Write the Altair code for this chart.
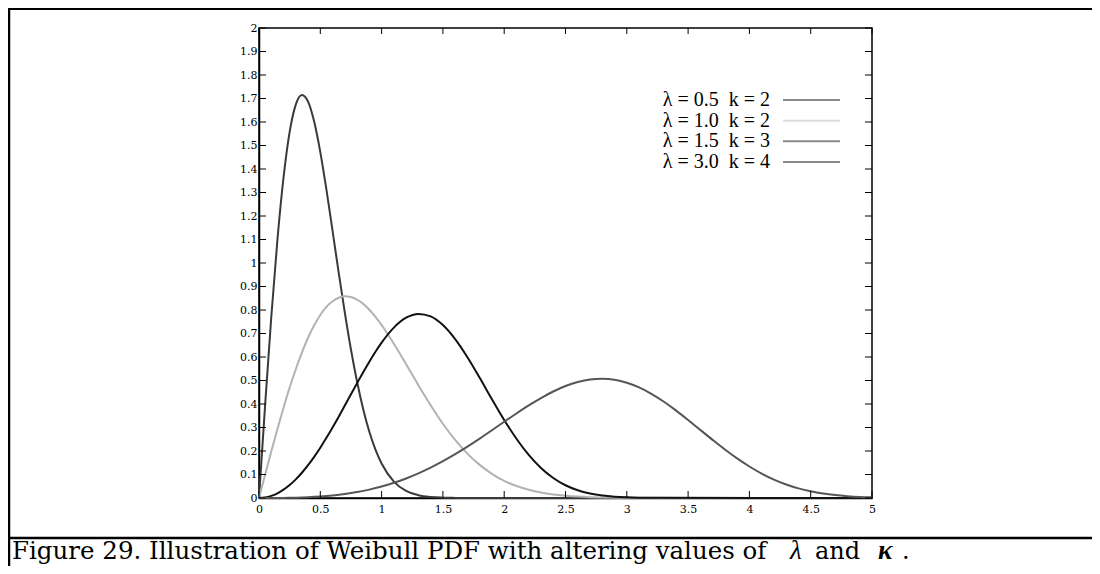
import altair as alt
import pandas as pd

# ---- data ----
series_names = ["λ = 0.5\u00a0\u00a0k = 2", "λ = 1.0\u00a0\u00a0k = 2",
                "λ = 1.5\u00a0\u00a0k = 3", "λ = 3.0\u00a0\u00a0k = 4"]
curve_colors = ["#3a3a3a", "#b2b2b2", "#111111", "#565656"]
legend_colors = ["#8a8a8a", "#dcdcdc", "#8a8a8a", "#8a8a8a"]

x_a = [0, 0.05, 0.1, 0.15, 0.2, 0.25, 0.3, 0.35, 0.4, 0.45, 0.5, 0.55, 0.6, 0.65, 0.7,
       0.75, 0.8, 0.85, 0.9, 0.95, 1.0, 1.1, 1.2, 1.3, 1.4, 1.5, 1.6, 1.7, 2.0, 5.0]
y_a = [0, 0.396, 0.769, 1.097, 1.363, 1.558, 1.674, 1.715, 1.687, 1.602, 1.472, 1.312, 1.137,
       0.959, 0.789, 0.632, 0.495, 0.378, 0.282, 0.206, 0.147, 0.070, 0.030, 0.012, 0.0044,
       0.0015, 0.0005, 0.0001, 0, 0]

x_b = [0, 0.05, 0.1, 0.15, 0.2, 0.25, 0.3, 0.35, 0.4, 0.45, 0.5, 0.55, 0.6, 0.65, 0.7,
       0.75, 0.8, 0.85, 0.9, 0.95, 1.0, 1.1, 1.2, 1.3, 1.4, 1.5, 1.6, 1.7, 1.8, 1.9, 2.0,
       2.1, 2.2, 2.3, 2.4, 2.5, 2.6, 2.7, 2.8, 2.9, 3.0, 5.0]
y_b = [0, 0.0998, 0.198, 0.293, 0.384, 0.470, 0.548, 0.619, 0.682, 0.735, 0.779, 0.813,
       0.837, 0.852, 0.858, 0.855, 0.844, 0.826, 0.801, 0.771, 0.736, 0.656, 0.569, 0.480,
       0.395, 0.316, 0.247, 0.189, 0.141, 0.103, 0.073, 0.051, 0.035, 0.023, 0.015, 0.0097,
       0.0060, 0.0037, 0.0022, 0.0013, 0.0007, 0]

x_c = [0, 0.05, 0.1, 0.15, 0.2, 0.25, 0.3, 0.35, 0.4, 0.45, 0.5, 0.55, 0.6, 0.65, 0.7,
       0.75, 0.8, 0.85, 0.9, 0.95, 1.0, 1.1, 1.2, 1.3, 1.4, 1.5, 1.6, 1.7, 1.8, 1.9, 2.0,
       2.1, 2.2, 2.3, 2.4, 2.5, 2.6, 2.7, 2.8, 2.9, 3.0, 3.1, 3.2, 5.0]
y_c = [0, 0.0022, 0.0089, 0.020, 0.0355, 0.0553, 0.0794, 0.1075, 0.1396, 0.1752, 0.2141,
       0.2560, 0.3002, 0.3462, 0.3935, 0.4412, 0.4888, 0.5353, 0.5801, 0.6223, 0.6610,
       0.7250, 0.7671, 0.7834, 0.7727, 0.7358, 0.6761, 0.5991, 0.5115, 0.4204, 0.3321,
       0.2521, 0.1833, 0.1279, 0.0852, 0.0542, 0.0329, 0.0190, 0.0104, 0.0054, 0.0027,
       0.0013, 0.0006, 0]

x_d = [0, 0.1, 0.2, 0.3, 0.4, 0.5, 0.6, 0.7, 0.8, 0.9, 1.0, 1.1, 1.2, 1.3, 1.4, 1.5, 1.6,
       1.7, 1.8, 1.9, 2.0, 2.1, 2.2, 2.3, 2.4, 2.5, 2.6, 2.7, 2.8, 2.9, 3.0, 3.1, 3.2, 3.3,
       3.4, 3.5, 3.6, 3.7, 3.8, 3.9, 4.0, 4.1, 4.2, 4.3, 4.4, 4.5, 4.6, 4.7, 4.8, 4.9, 5.0]
y_d = [0, 0.00005, 0.0004, 0.0013, 0.0032, 0.0062, 0.0107, 0.0169, 0.0252, 0.0357, 0.0488,
       0.0646, 0.0832, 0.1048, 0.1292, 0.1566, 0.1866, 0.2189, 0.2530, 0.2884, 0.3243,
       0.3597, 0.3939, 0.4253, 0.4532, 0.4764, 0.4937, 0.5044, 0.5075, 0.5030, 0.4905,
       0.4705, 0.4434, 0.4105, 0.3729, 0.3320, 0.2896, 0.2474, 0.2065, 0.1684, 0.1341,
       0.1039, 0.0785, 0.0577, 0.0411, 0.0285, 0.0191, 0.0124, 0.0078, 0.0047, 0.0028]

y_ticks = [0, 0.1, 0.2, 0.3, 0.4, 0.5, 0.6, 0.7, 0.8, 0.9, 1, 1.1, 1.2, 1.3, 1.4, 1.5,
           1.6, 1.7, 1.8, 1.9, 2]
x_ticks = [0, 0.5, 1, 1.5, 2, 2.5, 3, 3.5, 4, 4.5, 5]

caption_main = "Figure 29. Illustration of Weibull PDF with altering values of"
caption_lambda = "λ"
caption_and = "and"
caption_kappa = "κ"
caption_end = "."

# ---- tables ----
rows = []
for name, xs, ys in zip(series_names, [x_a, x_b, x_c, x_d], [y_a, y_b, y_c, y_d]):
    for xv, yv in zip(xs, ys):
        rows.append({"x": xv, "y": yv, "series": name})
curves_df = pd.DataFrame(rows)
legend_df = pd.DataFrame({"label": series_names, "row": list(range(len(series_names))),
                          "col": legend_colors})
yt_df = pd.DataFrame({"v": y_ticks})
xt_df = pd.DataFrame({"v": x_ticks})

W, H = 613, 470
SERIF = "Liberation Serif"
CAPFONT = "DejaVu Serif"
AXFONT = "DejaVu Serif"

xscale = alt.Scale(domain=[0, 5], nice=False)
yscale = alt.Scale(domain=[0, 2], nice=False)

x_axis = alt.Axis(values=x_ticks, format="~g", labelPadding=5, title=None,
                  labelOverlap=False, labelFlush=False, ticks=False)
y_axis = alt.Axis(values=y_ticks, format="~g", labelPadding=2, title=None,
                  labelOverlap=False, labelFlush=False, ticks=False, tickCount=21)

curves = alt.Chart(curves_df).mark_line(strokeWidth=2, interpolate="monotone").encode(
    x=alt.X("x:Q", scale=xscale, axis=x_axis),
    y=alt.Y("y:Q", scale=yscale, axis=y_axis),
    color=alt.Color("series:N", scale=alt.Scale(domain=series_names, range=curve_colors),
                    legend=None),
    order=alt.Order("x:Q"),
)

tick_left = alt.Chart(yt_df).mark_rule(color="black", strokeWidth=1).encode(
    y=alt.Y("v:Q", axis=y_axis), x=alt.value(0), x2=alt.value(7))
tick_right = alt.Chart(yt_df).mark_rule(color="black", strokeWidth=1).encode(
    y=alt.Y("v:Q", axis=y_axis), x=alt.value(W - 7), x2=alt.value(W))
tick_bottom = alt.Chart(xt_df).mark_rule(color="black", strokeWidth=1).encode(
    x=alt.X("v:Q", axis=x_axis), y=alt.value(H), y2=alt.value(H - 7))
tick_top = alt.Chart(xt_df).mark_rule(color="black", strokeWidth=1).encode(
    x=alt.X("v:Q", axis=x_axis), y=alt.value(0), y2=alt.value(6))

one = pd.DataFrame({"t": [0]})
frame_top = alt.Chart(one).mark_rule(color="black", strokeWidth=3).encode(
    x=alt.value(-251), x2=alt.value(833), y=alt.value(-19.5))
frame_left = alt.Chart(one).mark_rule(color="black", strokeWidth=2.5).encode(
    x=alt.value(-250), y=alt.value(-20), y2=alt.value(540))
frame_sep = alt.Chart(one).mark_rule(color="black", strokeWidth=2.5).encode(
    x=alt.value(-251), x2=alt.value(833), y=alt.value(510))


def cap(text, xpos, font, size, style="normal", weight="normal"):
    return alt.Chart(pd.DataFrame({"t": [text]})).mark_text(
        font=font, fontSize=size, fontStyle=style, fontWeight=weight, align="left",
        baseline="alphabetic", color="black").encode(
        text="t:N", x=alt.value(xpos), y=alt.value(531))


captions = [
    cap(caption_main, -247, CAPFONT, 24.5),
    cap(caption_lambda, 531, SERIF, 27, style="italic"),
    cap(caption_and, 556, CAPFONT, 24),
    cap(caption_kappa, 619, SERIF, 27, style="italic", weight="bold"),
    cap(caption_end, 643, CAPFONT, 24),
]

main = alt.layer(curves, tick_left, tick_right, tick_bottom, tick_top,
                 frame_top, frame_left, frame_sep, *captions)

legend_y = alt.Y("row:Q", scale=alt.Scale(domain=[0, 3], range=[72, 134]), axis=None)
legend_text = alt.Chart(legend_df).mark_text(
    font=SERIF, fontSize=20, align="right", baseline="middle", color="black").encode(
    text="label:N", x=alt.value(511), y=legend_y)
legend_lines = alt.Chart(legend_df).mark_rule(strokeWidth=2).encode(
    x=alt.value(524), x2=alt.value(581), y=legend_y,
    color=alt.Color("col:N", scale=None))
legend = alt.layer(legend_text, legend_lines)

chart = alt.layer(main, legend).resolve_scale(y="independent").properties(
    width=W, height=H,
    padding={"left": 251, "top": 20, "right": 220, "bottom": 68},
    autosize=alt.AutoSizeParams(type="none"),
    background="white",
).configure_view(stroke="black", strokeWidth=1.5).configure_axis(
    labelFont=AXFONT, labelFontSize=11, labelColor="black", domainColor="black",
    domainWidth=1.5, ticks=False, grid=False, labelOverlap=False, labelFlush=False,
)

chart.save("out.html", embed_options={"renderer": "svg", "actions": False})
